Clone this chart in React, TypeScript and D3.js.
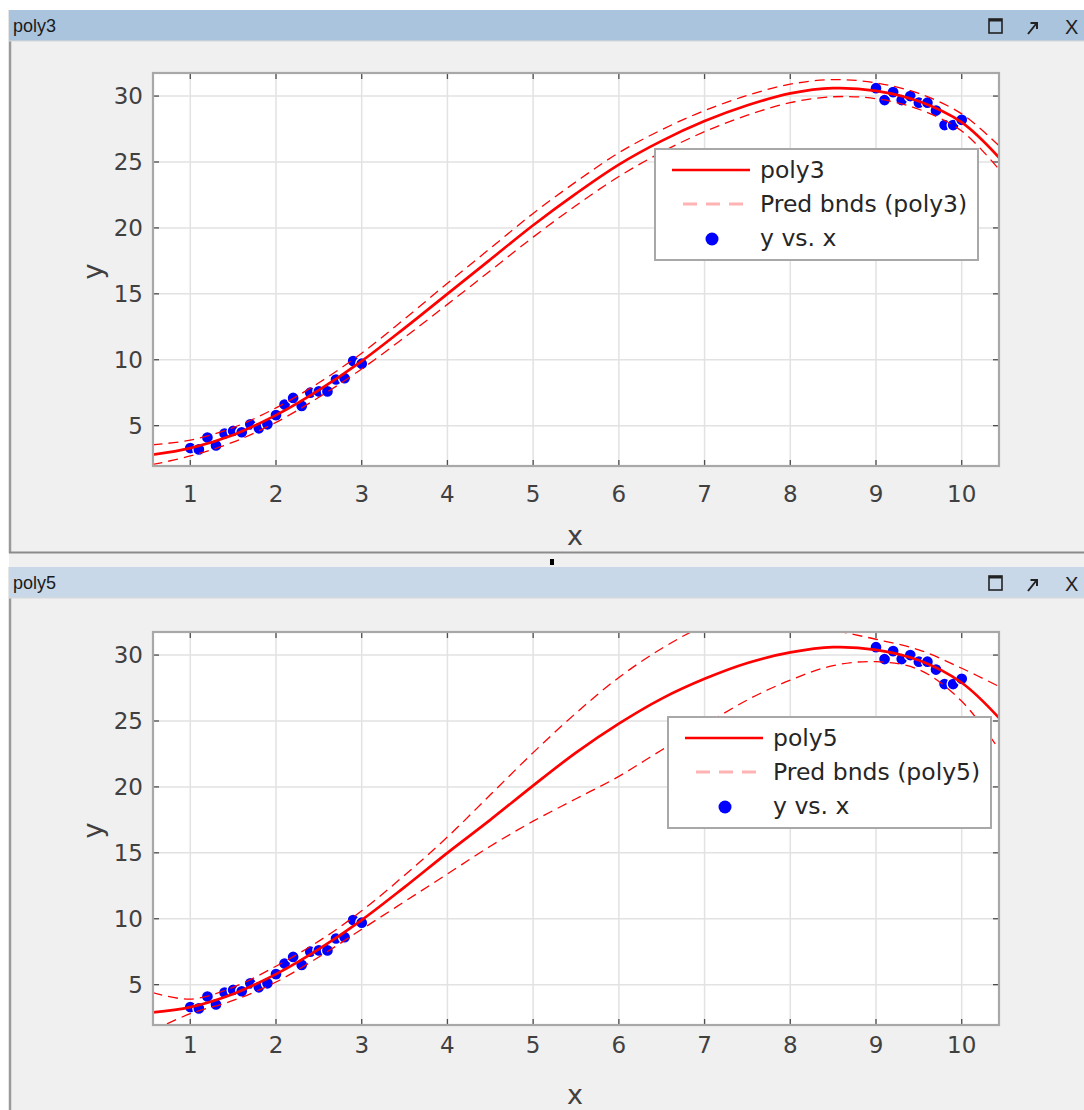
import React from "react";
import * as d3 from "d3";

// ---------- data ----------
const xTicks = [1, 2, 3, 4, 5, 6, 7, 8, 9, 10];
const yTicks = [5, 10, 15, 20, 25, 30];

const dataX = [
  1.0, 1.1, 1.2, 1.3, 1.4, 1.5, 1.6, 1.7, 1.8, 1.9, 2.0, 2.1, 2.2, 2.3, 2.4, 2.5, 2.6, 2.7, 2.8, 2.9, 3.0,
  9.0, 9.1, 9.2, 9.3, 9.4, 9.5, 9.6, 9.7, 9.8, 9.9, 10.0,
];
const dataY = [
  3.3, 3.2, 4.1, 3.5, 4.4, 4.6, 4.5, 5.1, 4.8, 5.1, 5.8, 6.6, 7.1, 6.5, 7.5, 7.6, 7.6, 8.5, 8.6, 9.9, 9.7,
  30.6, 29.7, 30.3, 29.7, 30.0, 29.5, 29.5, 28.9, 27.8, 27.8, 28.2,
];

const fitX = [0.56, 1, 1.5, 2, 2.5, 3, 3.5, 4, 4.5, 5, 5.5, 6, 6.5, 7, 7.5, 8, 8.5, 9, 9.5, 10, 10.44];

const poly3Fit = [2.8, 3.3, 4.3, 5.8, 7.7, 9.9, 12.4, 15.0, 17.6, 20.2, 22.6, 24.8, 26.6, 28.1, 29.3, 30.2, 30.6, 30.4, 29.6, 28.0, 25.3];
const poly3Upper = [3.55, 3.9, 4.85, 6.35, 8.25, 10.5, 13.1, 15.8, 18.45, 21.1, 23.5, 25.7, 27.45, 28.9, 30.05, 30.9, 31.25, 31.0, 30.2, 28.65, 26.2];
const poly3Lower = [2.05, 2.7, 3.75, 5.25, 7.15, 9.3, 11.7, 14.2, 16.75, 19.3, 21.7, 23.9, 25.75, 27.3, 28.55, 29.5, 29.95, 29.8, 29.0, 27.35, 24.4];

const poly5Fit = [2.9, 3.3, 4.3, 5.8, 7.7, 9.9, 12.4, 15.0, 17.5, 20.1, 22.6, 24.8, 26.7, 28.2, 29.4, 30.2, 30.6, 30.4, 29.6, 27.9, 25.2];
const poly5Upper = [4.4, 3.9, 4.8, 6.4, 8.3, 10.6, 13.3, 16.2, 19.4, 22.6, 25.6, 28.3, 30.5, 32.2, 33.0, 32.7, 31.9, 31.2, 30.4, 29.0, 27.6];
const poly5Lower = [1.5, 2.8, 3.8, 5.2, 7.1, 9.2, 11.3, 13.4, 15.5, 17.4, 19.1, 20.8, 22.8, 24.7, 26.6, 28.1, 29.2, 29.5, 28.9, 26.5, 22.8];

// ---------- layout ----------
const W = 1084;
const H = 1110;
const FONT = "'DejaVu Sans', Verdana, sans-serif";
const X_DOMAIN: [number, number] = [0.565, 10.435];
const Y_DOMAIN: [number, number] = [1.94, 31.75];
const AX_LEFT = 153;
const AX_RIGHT = 999;

type PanelProps = {
  title: string;
  barTop: number;
  barColor: string;
  axTop: number;
  axBottom: number;
  tickLabelY: number;
  fit: number[];
  lower: number[];
  upper: number[];
  legendX: number;
  legendY: number;
  clipId: string;
};

function Panel(p: PanelProps) {
  const x = d3.scaleLinear().domain(X_DOMAIN).range([AX_LEFT, AX_RIGHT]);
  const y = d3.scaleLinear().domain(Y_DOMAIN).range([p.axBottom, p.axTop]);
  const line = d3
    .line<[number, number]>()
    .x((d) => x(d[0]))
    .y((d) => y(d[1]))
    .curve(d3.curveCatmullRom.alpha(0.5));
  const pts = (ys: number[]) => fitX.map((v, i) => [v, ys[i]] as [number, number]);
  const tickLen = 6;
  const lx = p.legendX;
  const ly = p.legendY;
  return (
    <g>
      {/* title bar */}
      <rect x={9} y={p.barTop} width={W - 9} height={31} fill={p.barColor} />
      <line x1={9} x2={W} y1={p.barTop + 31} y2={p.barTop + 31} stroke="#d8d8d8" />
      <text x={13} y={p.barTop + 22} fontFamily="'Liberation Sans', Arial, sans-serif" fontSize={18} fill="#1a1a1a">
        {p.title}
      </text>
      <rect x={989} y={p.barTop + 9} width={13} height={14} fill="none" stroke="#222" strokeWidth={1.6} />
      <rect x={989} y={p.barTop + 9} width={13} height={2.5} fill="#222" />
      <path
        d={`M1028,${p.barTop + 24} L1036,${p.barTop + 14} M1030.5,${p.barTop + 13} L1037,${p.barTop + 13} L1037,${p.barTop + 19}`}
        stroke="#222"
        strokeWidth={2}
        fill="none"
      />
      <text x={1065} y={p.barTop + 24} fontFamily="'Liberation Sans', Arial, sans-serif" fontSize={20} fill="#222">
        X
      </text>

      {/* axes area */}
      <rect x={AX_LEFT} y={p.axTop} width={AX_RIGHT - AX_LEFT} height={p.axBottom - p.axTop} fill="#ffffff" />
      {xTicks.map((t) => (
        <line key={"gx" + t} x1={x(t)} x2={x(t)} y1={p.axTop} y2={p.axBottom} stroke="#e2e2e2" strokeWidth={1.5} />
      ))}
      {yTicks.map((t) => (
        <line key={"gy" + t} x1={AX_LEFT} x2={AX_RIGHT} y1={y(t)} y2={y(t)} stroke="#e2e2e2" strokeWidth={1.5} />
      ))}

      <defs>
        <clipPath id={p.clipId}>
          <rect x={AX_LEFT} y={p.axTop} width={AX_RIGHT - AX_LEFT} height={p.axBottom - p.axTop} />
        </clipPath>
      </defs>
      <g clipPath={`url(#${p.clipId})`}>
        {dataX.map((v, i) => (
          <circle key={"pt" + i} cx={x(v)} cy={y(dataY[i])} r={6} fill="#0000ff" stroke="#ffffff" strokeWidth={1.3} />
        ))}
        <path d={line(pts(p.upper)) || ""} fill="none" stroke="#ff0000" strokeWidth={1.3} strokeDasharray="10 6" />
        <path d={line(pts(p.lower)) || ""} fill="none" stroke="#ff0000" strokeWidth={1.3} strokeDasharray="10 6" />
        <path d={line(pts(p.fit)) || ""} fill="none" stroke="#ff0000" strokeWidth={2.7} />
      </g>

      {/* ticks */}
      {xTicks.map((t) => (
        <g key={"tx" + t}>
          <line x1={x(t)} x2={x(t)} y1={p.axBottom} y2={p.axBottom - tickLen} stroke="#4d4d4d" strokeWidth={1.3} />
          <line x1={x(t)} x2={x(t)} y1={p.axTop} y2={p.axTop + tickLen} stroke="#4d4d4d" strokeWidth={1.3} />
          <text x={x(t)} y={p.tickLabelY} textAnchor="middle" dominantBaseline="central" fontFamily={FONT} fontSize={23} fill="#404040">
            {t}
          </text>
        </g>
      ))}
      {yTicks.map((t) => (
        <g key={"ty" + t}>
          <line x1={AX_LEFT} x2={AX_LEFT + tickLen} y1={y(t)} y2={y(t)} stroke="#4d4d4d" strokeWidth={1.3} />
          <line x1={AX_RIGHT} x2={AX_RIGHT - tickLen} y1={y(t)} y2={y(t)} stroke="#4d4d4d" strokeWidth={1.3} />
          <text x={143} y={y(t)} textAnchor="end" dominantBaseline="central" fontFamily={FONT} fontSize={23} fill="#404040">
            {t}
          </text>
        </g>
      ))}
      <rect x={AX_LEFT} y={p.axTop} width={AX_RIGHT - AX_LEFT} height={p.axBottom - p.axTop} fill="none" stroke="#a8a8a8" strokeWidth={2.2} />

      {/* axis labels */}
      <text x={(AX_LEFT + AX_RIGHT) / 2 - 1} y={p.axBottom + 69} textAnchor="middle" dominantBaseline="central" fontFamily={FONT} fontSize={27} fill="#404040">
        x
      </text>
      <text
        transform={`translate(92,${(p.axTop + p.axBottom) / 2 + 2}) rotate(-90)`}
        textAnchor="middle"
        dominantBaseline="central"
        fontFamily={FONT}
        fontSize={27}
        fill="#404040"
      >
        y
      </text>

      {/* legend */}
      <rect x={lx} y={ly} width={323} height={111} fill="#ffffff" stroke="#a8a8a8" strokeWidth={2} />
      <line x1={lx + 17} x2={lx + 95} y1={ly + 21} y2={ly + 21} stroke="#ff0000" strokeWidth={2.7} />
      <text x={lx + 105} y={ly + 21} dominantBaseline="central" fontFamily={FONT} fontSize={23.5} fill="#262626">
        {p.title}
      </text>
      <line x1={lx + 28} x2={lx + 95} y1={ly + 55} y2={ly + 55} stroke="#ffb3b3" strokeWidth={3} strokeDasharray="14 9" />
      <text x={lx + 105} y={ly + 55} dominantBaseline="central" fontFamily={FONT} fontSize={23.5} fill="#262626">
        {`Pred bnds (${p.title})`}
      </text>
      <circle cx={lx + 57} cy={ly + 90} r={6.5} fill="#0000ff" />
      <text x={lx + 105} y={ly + 89} dominantBaseline="central" fontFamily={FONT} fontSize={23.5} fill="#262626">
        y vs. x
      </text>
    </g>
  );
}

export default function App() {
  return (
    <svg width={W} height={H} style={{ display: "block", position: "absolute", left: 0, top: 0 }}>
      <rect x={0} y={0} width={W} height={H} fill="#ffffff" />
      {/* panel backgrounds */}
      <rect x={9} y={10} width={W - 9} height={543} fill="#f0f0f0" />
      <rect x={9} y={553} width={W - 9} height={H - 553} fill="#f0f0f0" />
      <line x1={10} x2={10} y1={10} y2={553} stroke="#9a9a9a" strokeWidth={2.5} />
      <line x1={10} x2={10} y1={567} y2={H} stroke="#9a9a9a" strokeWidth={2.5} />
      <line x1={9} x2={W} y1={552.5} y2={552.5} stroke="#8c8c8c" strokeWidth={2} />
      <rect x={550} y={559} width={4} height={6} fill="#000000" />

      <Panel
        title="poly3"
        barTop={10}
        barColor="#aac4de"
        axTop={73}
        axBottom={466}
        tickLabelY={494}
        fit={poly3Fit}
        lower={poly3Lower}
        upper={poly3Upper}
        legendX={655}
        legendY={149}
        clipId="clip3"
      />
      <Panel
        title="poly5"
        barTop={567}
        barColor="#c8d8e8"
        axTop={632}
        axBottom={1025}
        tickLabelY={1045}
        fit={poly5Fit}
        lower={poly5Lower}
        upper={poly5Upper}
        legendX={668}
        legendY={717}
        clipId="clip5"
      />
    </svg>
  );
}
